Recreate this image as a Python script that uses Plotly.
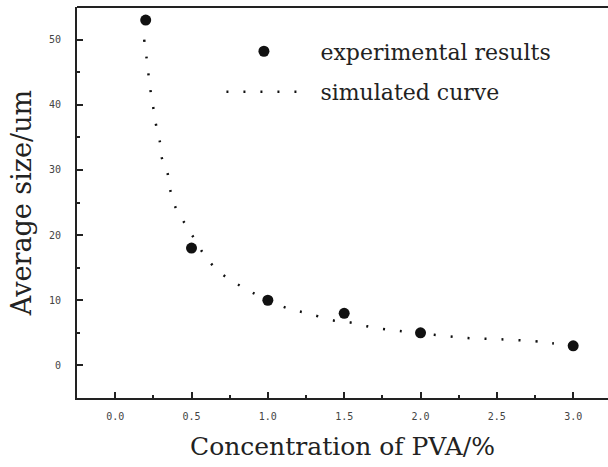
import plotly.graph_objects as go

# experimental data
exp_x = [0.2, 0.5, 1.0, 1.5, 2.0, 3.0]
exp_y = [53, 18, 10, 8, 5, 3]

# simulated curve
sim_x = [0.19, 0.205, 0.218, 0.232, 0.25, 0.267, 0.293, 0.304, 0.343, 0.363, 0.40, 0.464,
         0.53, 0.60, 0.70, 0.82, 0.93, 1.04, 1.15, 1.26, 1.43, 1.54, 1.65, 1.75, 1.86,
         2.09, 2.31, 2.53, 2.75, 2.86, 3.0]
sim_y = [50.0, 47.3, 44.7, 42.1, 39.5, 37.0, 34.3, 32.0, 29.5, 26.7, 24.0, 21.5,
         19.0, 16.4, 14.0, 12.2, 10.8, 9.6, 8.6, 8.0, 6.9, 6.6, 6.0, 5.6, 5.3,
         4.7, 4.2, 4.0, 3.7, 3.4, 3.1]

x_ticks = [0.0, 0.5, 1.0, 1.5, 2.0, 2.5, 3.0]
x_tick_text = ["0.0", "0.5", "1.0", "1.5", "2.0", "2.5", "3.0"]
y_ticks = [0, 10, 20, 30, 40, 50]
y_tick_text = ["0", "10", "20", "30", "40", "50"]

serif = "DejaVu Serif"
tickfont = dict(family="DejaVu Sans Mono", size=10, color="#444")

fig = go.Figure()
fig.add_trace(go.Scatter(
    x=exp_x, y=exp_y, mode="markers", name="\u00a0\u00a0experimental results",
    marker=dict(color="#111", size=11, symbol="circle"),
    legendgroup="a",
))
fig.add_trace(go.Scatter(
    x=sim_x, y=sim_y, mode="lines", name="\u00a0\u00a0simulated curve",
    line=dict(color="#111", width=2.5, dash="2px,15px", shape="spline"),
    legendgroup="b",
))

fig.add_shape(type="line", xref="paper", yref="paper", x0=0, x1=1, y0=1, y1=1,
              line=dict(color="#222", width=2))

fig.update_layout(
    width=608, height=467,
    margin=dict(l=77, r=0, t=7, b=69),
    paper_bgcolor="white", plot_bgcolor="white",
    font=dict(family=serif, color="#222"),
    showlegend=True,
    legend=dict(
        x=0.272, y=0.94, xanchor="left", yanchor="top",
        font=dict(family=serif, size=22, color="#222"),
        bgcolor="rgba(0,0,0,0)", itemwidth=75,
        tracegroupgap=9, traceorder="grouped",
    ),
    xaxis=dict(
        range=[-0.25, 3.228], tickvals=x_ticks, ticktext=x_tick_text,
        ticks="inside", ticklen=6, tickwidth=1.5, tickcolor="#222",
        showline=True, linecolor="#222", linewidth=2, showgrid=False, zeroline=False,
        tickfont=tickfont,
        ticklabelstandoff=8,
        minor=dict(ticks="inside", ticklen=3, dtick=0.25, tick0=0, tickcolor="#222", showgrid=False),
        title=dict(text="Concentration of PVA/%", font=dict(family=serif, size=25, color="#222"), standoff=16),
    ),
    yaxis=dict(
        range=[-5, 55], tickvals=y_ticks, ticktext=y_tick_text,
        ticks="inside", ticklen=6, tickwidth=1.5, tickcolor="#222",
        showline=True, linecolor="#222", linewidth=2, showgrid=False, zeroline=False,
        tickfont=tickfont,
        ticklabelstandoff=12,
        minor=dict(ticks="inside", ticklen=3, dtick=5, tick0=0, tickcolor="#222", showgrid=False),
        title=dict(text="Average size/um", font=dict(family=serif, size=27, color="#222"), standoff=10),
    ),
)

fig.write_html("out.html")
